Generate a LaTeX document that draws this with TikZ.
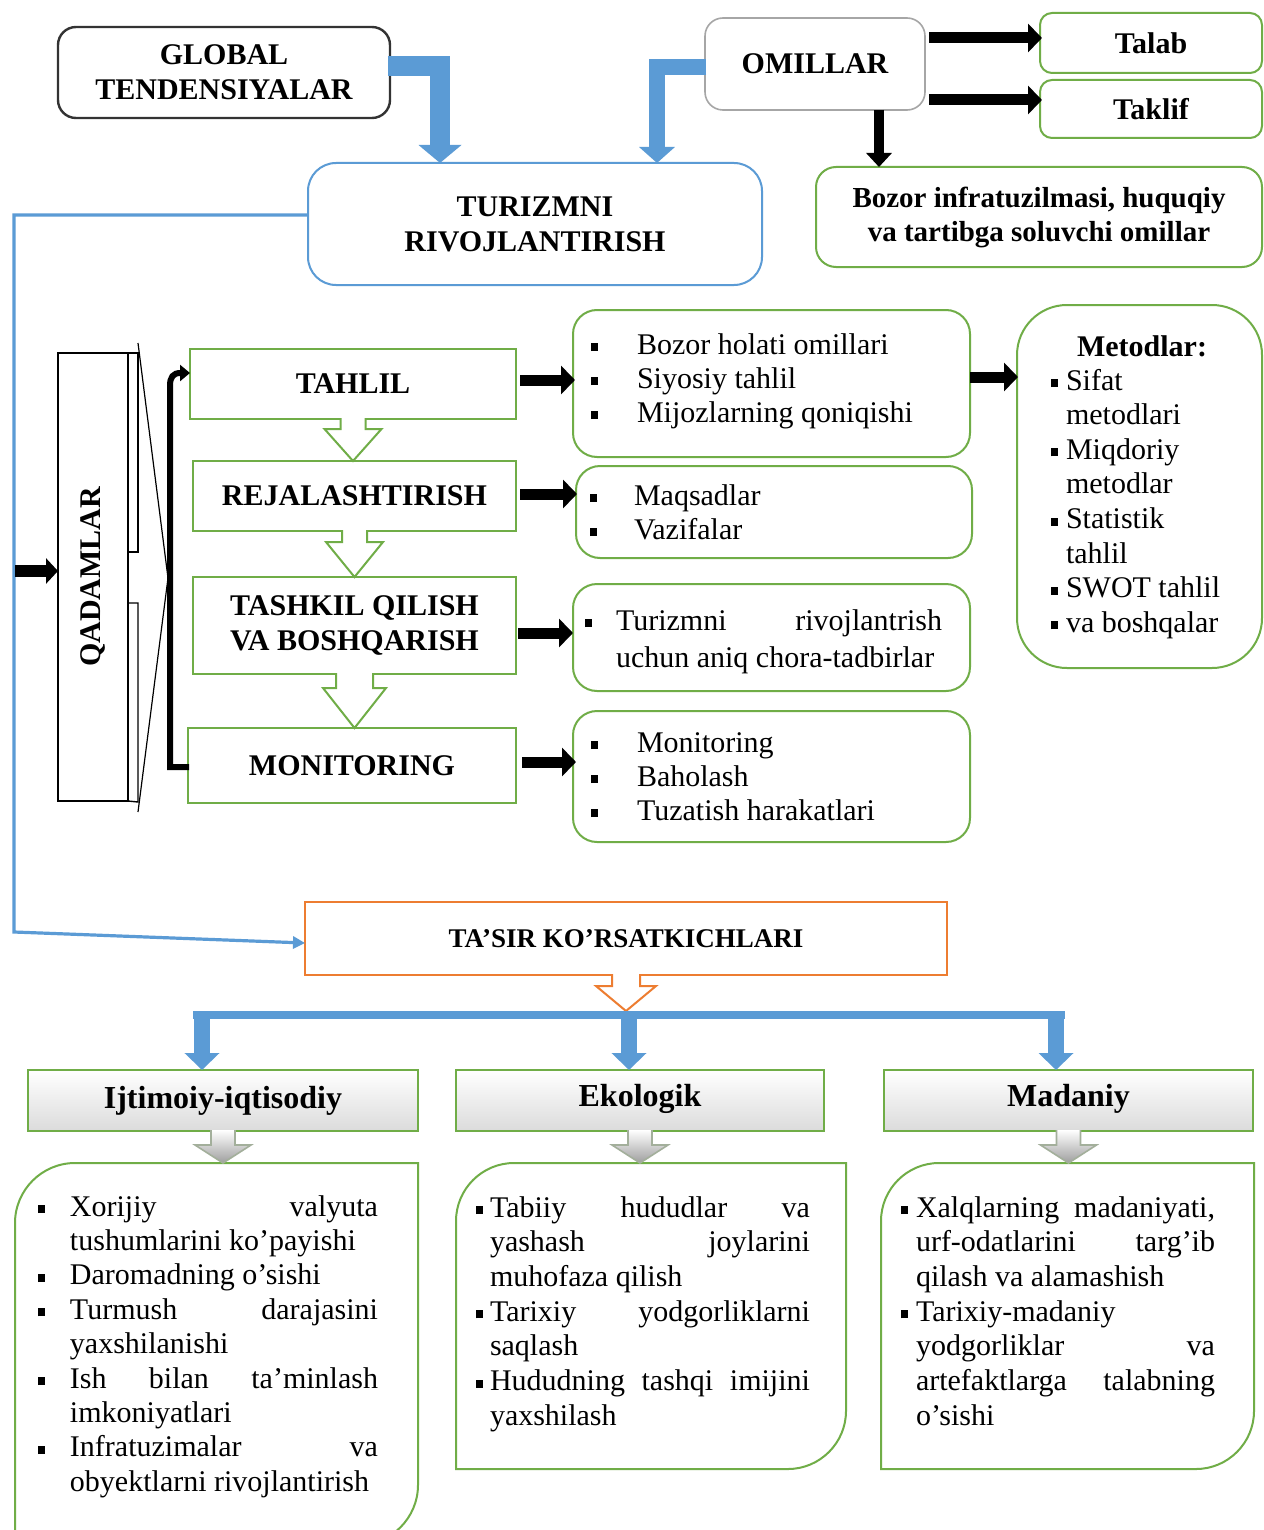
\documentclass[tikz,border=0pt]{standalone}
\usepackage{fontspec}
\setmainfont{Liberation Serif}
\usetikzlibrary{arrows.meta,calc}
\definecolor{oblue}{HTML}{5B9BD5}
\definecolor{ogreen}{HTML}{70AD47}
\definecolor{oorange}{HTML}{ED7D31}
\definecolor{ogrey}{HTML}{A6A6A6}
\newcommand\sq{\rule[1.4pt]{3.4pt}{4pt}}
\newcommand\J[2]{\makebox[#1][s]{#2}}
\newcommand\bi[1]{\makebox[#1][l]{\sq}}
% hollow block arrow: style, from node, tip coordinate, stem half width, head half width, stem length
\newcommand\harrow[6]{%
  \path[#1] ($(#2.south)+(-#4,-1)$) -- ($(#2.south)+(-#4,#6)$) -- ($(#2.south)+(-#5,#6)$)
    -- (#2.south |- #3) -- ($(#2.south)+(#5,#6)$) -- ($(#2.south)+(#4,#6)$) -- ($(#2.south)+(#4,-1)$);}
% box with rounded top-left and bottom-right corners
\newcommand\leaf[2]{%
  \draw[draw=ogreen, line width=1pt, fill=white] (#1.south west) -- ($(#1.north west)+(0,#2)$)
    .. controls ($(#1.north west)+(0,0.45*#2)$) and ($(#1.north west)+(0.45*#2,0)$) .. ($(#1.north west)+(#2,0)$)
    -- (#1.north east) -- ($(#1.south east)+(0,-#2)$)
    .. controls ($(#1.south east)+(0,-0.45*#2)$) and ($(#1.south east)+(-0.45*#2,0)$) .. ($(#1.south east)+(-#2,0)$)
    -- cycle;}
\tikzset{
  every node/.style={inner sep=0pt, outer sep=0pt, font=\fontsize{15}{17}\selectfont},
  ttl/.style={font=\fontsize{15}{17.5}\selectfont\bfseries},
  gbox/.style={draw=ogreen, line width=1pt, fill=white},
  blkarr/.style={draw=black, line width=5.5pt, -{Triangle[width=14pt,length=7pt]}},
  blkarrv/.style={draw=black, line width=5pt, -{Triangle[width=12.5pt,length=7pt]}},
  greenhollow/.style={draw=ogreen, line width=1pt, fill=white},
  orangehollow/.style={draw=oorange, line width=1pt, fill=white},
  greyhollow/.style={draw=ogreen!45!black!45, line width=0.8pt, top color=white, bottom color=black!38},
  catbox/.style={draw=ogreen, line width=1pt, top color=white, bottom color=black!14,
     minimum height=30.5pt, font=\fontsize{16}{18}\selectfont\bfseries},
  bluedown/.style={draw=oblue, line width=8pt, -{Triangle[width=17pt,length=8.5pt]}}
}
\begin{document}
\begin{tikzpicture}[x=0.5pt, y=-0.5pt]
\useasboundingbox (0,0) rectangle (1263,1530);
\clip (0,0) rectangle (1263,1530);
\fill[white] (0,0) rectangle (1263,1530);

% ---------- top part ----------
\node[draw=black!80, line width=1.2pt, rounded corners=9pt, minimum width=166pt, minimum height=45.5pt, ttl, align=center] (global) at (224,72.5) {GLOBAL\\TENDENSIYALAR};
\node[draw=ogrey, line width=0.8pt, rounded corners=9pt, minimum width=110pt, minimum height=46pt, ttl] (omillar) at (815,64) {OMILLAR};
\node[gbox, rounded corners=6pt, minimum width=111pt, minimum height=30pt, ttl] (talab) at (1151,43) {Talab};
\node[gbox, rounded corners=6pt, minimum width=111pt, minimum height=29pt, ttl] (taklif) at (1151,109) {Taklif};
\node[gbox, rounded corners=10pt, minimum width=223pt, minimum height=50pt, font=\fontsize{14.5}{17}\selectfont\bfseries, align=center] (bozor) at (1039,217) {Bozor infratuzilmasi, huquqiy\\va tartibga soluvchi omillar};
\node[draw=oblue, line width=1pt, rounded corners=14pt, minimum width=227pt, minimum height=61pt, ttl, align=center, fill=white] (turizm) at (535,224) {TURIZMNI\\RIVOJLANTIRISH};

% ---------- steps ----------
\node[draw=black, line width=1pt, minimum width=35pt, minimum height=224pt] (qadam) at (93,577) {};
\node[ttl, rotate=90] (qadamt) at (qadam.center) {QADAMLAR};

\node[gbox, ttl, minimum width=163pt, minimum height=35pt] (tahlil) at (353,384) {TAHLIL};
\node[gbox, ttl, minimum width=161.5pt, minimum height=35pt] (rej) at (354.5,496) {REJALASHTIRISH};
\node[gbox, ttl, minimum width=161.5pt, minimum height=48.5pt, align=center] (tashkil) at (354.5,625.5) {TASHKIL QILISH\\VA BOSHQARISH};
\node[gbox, ttl, minimum width=164pt, minimum height=37.5pt] (mon) at (352,765.5) {MONITORING};

\node[gbox, rounded corners=12pt, minimum width=198.5pt, minimum height=73.5pt] (b1) at (771.5,383.5) {};
\node[gbox, rounded corners=12pt, minimum width=198pt, minimum height=46pt] (b2) at (774,512) {};
\node[gbox, rounded corners=12pt, minimum width=198.5pt, minimum height=53.5pt] (b3) at (771.5,637.5) {};
\node[gbox, rounded corners=12pt, minimum width=198.5pt, minimum height=65.5pt] (b4) at (771.5,776.5) {};
\node[gbox, rounded corners=25pt, minimum width=122.5pt, minimum height=181.5pt] (met) at (1139.5,486.5) {};

\node[anchor=base west] (b1t) at (591,354) {\begin{tabular}[t]{@{}l@{}}
\bi{23pt}Bozor holati omillari\\
\bi{23pt}Siyosiy tahlil\\
\bi{23pt}Mijozlarning qoniqishi\end{tabular}};
\node[anchor=base west] (b2t) at (590,505) {\begin{tabular}[t]{@{}l@{}}
\bi{22pt}Maqsadlar\\
\bi{22pt}Vazifalar\end{tabular}};
\node[anchor=base west, font=\fontsize{15}{18.5}\selectfont] (b3t) at (585,630) {\begin{tabular}[t]{@{}l@{}}
\bi{15.5pt}\J{163pt}{Turizmni rivojlantrish}\\
\hspace*{15.5pt}uchun aniq chora-tadbirlar\end{tabular}};
\node[anchor=base west] (b4t) at (591,752) {\begin{tabular}[t]{@{}l@{}}
\bi{23pt}Monitoring\\
\bi{23pt}Baholash\\
\bi{23pt}Tuzatish harakatlari\end{tabular}};
\node[anchor=base, ttl] (mett) at (1142,356) {Metodlar:};
\node[anchor=base west, font=\fontsize{15}{17.3}\selectfont] (metl) at (1051,390) {\begin{tabular}[t]{@{}l@{}}
\bi{7.5pt}Sifat\\
\hspace*{7.5pt}metodlari\\
\bi{7.5pt}Miqdoriy\\
\hspace*{7.5pt}metodlar\\
\bi{7.5pt}Statistik\\
\hspace*{7.5pt}tahlil\\
\bi{7.5pt}SWOT tahlil\\
\bi{7.5pt}va boshqalar\end{tabular}};

% ---------- impact ----------
\node[draw=oorange, line width=1pt, fill=white, minimum width=321pt, minimum height=36.5pt, font=\fontsize{13.5}{16}\selectfont\bfseries] (tasir) at (626,938.5) {TA’SIR KO’RSATKICHLARI};

\node[catbox, minimum width=195pt] (ijt) at (223,1100.5) {Ijtimoiy-iqtisodiy};
\node[catbox, minimum width=184pt, text depth=5pt] (eko) at (640,1100.5) {Ekologik};
\node[catbox, minimum width=184.5pt, text depth=5pt] (mad) at (1068.5,1100.5) {Madaniy};

\node[minimum width=201.5pt, minimum height=191pt] (bx1) at (216.5,1354) {};
\node[minimum width=195pt, minimum height=153pt] (bx2) at (651,1316) {};
\node[minimum width=186.5pt, minimum height=153pt] (bx3) at (1067.5,1316) {};
\leaf{bx1}{60}
\leaf{bx2}{58}
\leaf{bx3}{58}

\node[anchor=base west, font=\fontsize{15}{17.2}\selectfont] (bx1t) at (38,1216) {\begin{tabular}[t]{@{}l@{}}
\bi{16pt}\J{154pt}{Xorijiy valyuta}\\
\hspace*{16pt}tushumlarini ko’payishi\\
\bi{16pt}Daromadning o’sishi\\
\bi{16pt}\J{154pt}{Turmush darajasini}\\
\hspace*{16pt}yaxshilanishi\\
\bi{16pt}\J{154pt}{Ish bilan ta’minlash}\\
\hspace*{16pt}imkoniyatlari\\
\bi{16pt}\J{154pt}{Infratuzimalar va}\\
\hspace*{16pt}obyektlarni rivojlantirish\end{tabular}};
\node[anchor=base west, font=\fontsize{15}{17.35}\selectfont] (bx2t) at (476,1217) {\begin{tabular}[t]{@{}l@{}}
\bi{7pt}\J{160pt}{Tabiiy hududlar va}\\
\hspace*{7pt}\J{160pt}{yashash joylarini}\\
\hspace*{7pt}muhofaza qilish\\
\bi{7pt}\J{160pt}{Tarixiy yodgorliklarni}\\
\hspace*{7pt}saqlash\\
\bi{7pt}\J{160pt}{Hududning tashqi imijini}\\
\hspace*{7pt}yaxshilash\end{tabular}};
\node[anchor=base west, font=\fontsize{15}{17.35}\selectfont] (bx3t) at (901,1217) {\begin{tabular}[t]{@{}l@{}}
\bi{7.5pt}\J{149.5pt}{Xalqlarning madaniyati,}\\
\hspace*{7.5pt}\J{149.5pt}{urf-odatlarini targ’ib}\\
\hspace*{7.5pt}qilash va alamashish\\
\bi{7.5pt}Tarixiy-madaniy\\
\hspace*{7.5pt}\J{149.5pt}{yodgorliklar va}\\
\hspace*{7.5pt}\J{149.5pt}{artefaktlarga talabning}\\
\hspace*{7.5pt}o’sishi\end{tabular}};

% ---------- connectors ----------
\draw[draw=oblue, line width=10pt, line join=miter, -{Triangle[width=21pt,length=9pt]}]
  ($(global.east)+(-2,-6.5)$) -| ([xshift=-47.5pt]turizm.north);
\draw[draw=oblue, line width=8pt, line join=miter, -{Triangle[width=17.5pt,length=8pt]}]
  ($(omillar.west)+(1,3.5)$) -| ([xshift=61pt]turizm.north);

\draw[blkarr] ($(omillar.east)+(4,-26)$) -- ($(talab.west)+(2,-5)$);
\draw[blkarr] ($(omillar.east)+(4,36)$) -- ($(taklif.west)+(2,-9)$);
\coordinate (om1) at ($(omillar.south)+(64,0)$);
\draw[blkarrv] (om1) -- (om1 |- bozor.north);

\coordinate (lt) at (14,215);
\coordinate (lb) at (14,932);
\draw[draw=oblue, line width=1.6pt, line join=miter, -{Triangle[width=6pt,length=6pt]}]
  ($(turizm.west)+(0,-9)$) -- (lt) -- (lb) -- ($(tasir.west)+(0,4.5)$);
\coordinate (lq) at (15,571);
\draw[draw=black, line width=6pt, -{Triangle[width=12.5pt,length=6pt]}] (lq) -- (lq -| qadam.west);

% spike arrow beside QADAMLAR
\draw[line width=0.7pt] (qadam.north east) -- (138,353) -- (138,552) -- (128,552);
\draw[line width=0.7pt] (128,603) -- (138,603) -- (138,802) -- (qadam.south east);
\draw[line width=0.6pt] (138,343) -- (168,578) -- (138,812);

% bracket
\coordinate (bk1) at (170,767);
\coordinate (bk2) at (170,386);
\draw[line width=3pt, line join=miter, -{Triangle[width=8pt,length=5pt]}]
  ($(mon.west)+(1,1.5)$) -- (bk1) -- (bk2) .. controls (170,377) and (173,373) .. ($(tahlil.west)+(0,-11)$);

\draw[blkarr] ($(tahlil.east)+(4,-4)$) -- ($(b1.west)+(2,-3.5)$);
\draw[blkarr] ($(rej.east)+(4,-2)$) -- ($(b2.west)+(1,-18)$);
\draw[blkarr] ($(tashkil.east)+(2,7.5)$) -- ($(b3.west)+(0,-4.5)$);
\draw[blkarr] ($(mon.east)+(6,-3.5)$) -- ($(b4.west)+(3,-14.5)$);
\draw[blkarr] ($(b1.east)+(0,-6.5)$) -- ($(met.west)+(1,-109.5)$);

\harrow{greenhollow}{tahlil}{rej.north}{12.5}{28.5}{10}
\harrow{greenhollow}{rej}{tashkil.north}{12.5}{28.5}{11}
\harrow{greenhollow}{tashkil}{mon.north}{18.5}{31.5}{14}

% impact connectors
\coordinate (bustop) at (629,1011);
\coordinate (busL) at (193,1015);
\coordinate (busR) at (1065,1015);
\harrow{orangehollow}{tasir}{bustop}{14}{30}{11}
\draw[draw=oblue, line width=4pt] (busL) -- (busR);
\draw[bluedown] ($(ijt.north)+(-21,-57)$) -- ($(ijt.north)+(-21,0)$);
\draw[bluedown] ($(eko.north)+(-11,-57)$) -- ($(eko.north)+(-11,0)$);
\draw[bluedown] ($(mad.north)+(-12.5,-57)$) -- ($(mad.north)+(-12.5,0)$);

\harrow{greyhollow}{ijt}{bx1.north}{12}{28}{14}
\harrow{greyhollow}{eko}{bx2.north}{12}{28}{14}
\harrow{greyhollow}{mad}{bx3.north}{12}{28}{14}
\end{tikzpicture}
\end{document}
